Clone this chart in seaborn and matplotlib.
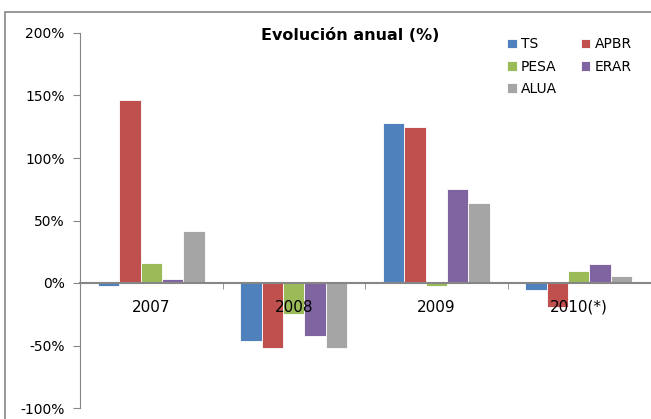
import pandas as pd
import matplotlib.pyplot as plt
import seaborn as sns
from matplotlib.patches import Rectangle

# datos (% de variación anual)
years = ["2007", "2008", "2009", "2010(*)"]
ts = [-2.5, -46, 128, -5.5]
apbr = [146, -52, 124.5, -19.5]
pesa = [15.7, -25, -2, 9.3]
erar = [3, -42, 75.5, 15]
alua = [42, -52, 64, 6]

series = {"TS": ts, "APBR": apbr, "PESA": pesa, "ERAR": erar, "ALUA": alua}
colors = ["#4F81BD", "#C0504D", "#9BBB59", "#8064A2", "#A5A5A5"]

rows = []
for name, vals in series.items():
    for y, v in zip(years, vals):
        rows.append({"year": y, "empresa": name, "valor": v})
df = pd.DataFrame(rows)

sns.set_style("white")
plt.rcParams["text.color"] = "black"
fig = plt.figure(figsize=(6.51, 4.19), dpi=100)
ax = fig.add_axes([80 / 651, 11 / 419, 570 / 651, 375 / 419])

sns.barplot(data=df, x="year", y="valor", hue="empresa", palette=colors,
            saturation=1, width=0.75, ax=ax, edgecolor="white", linewidth=0.6)

ax.set_axisbelow(False)
ax.set_ylim(-100, 200)
ax.set_yticks(range(-100, 201, 50))
ax.set_yticklabels([f"{t}%" for t in range(-100, 201, 50)], fontsize=10)
ax.set_xlabel("")
ax.set_ylabel("")

# eje de categorías en el cero
for s in ["top", "right"]:
    ax.spines[s].set_visible(False)
ax.spines["left"].set_color("#868686")
ax.spines["bottom"].set_color("#868686")
ax.spines["bottom"].set_position(("data", 0))
ax.spines["bottom"].set_linewidth(1.5)
ax.tick_params(axis="y", direction="out", length=5, color="#868686", left=True, pad=6,
               labelcolor="black")
ax.tick_params(axis="x", which="major", length=0, labelsize=11, pad=12, labelcolor="black")
ax.set_xticks([0.5, 1.5, 2.5], minor=True)
ax.tick_params(axis="x", which="minor", direction="out", length=4, color="#868686", bottom=True)
ax.set_xlim(-0.5, 3.5)

# orden por filas como en el original
handles, labels = ax.get_legend_handles_labels()
order = [0, 2, 4, 1, 3]
ax.legend([handles[i] for i in order], [labels[i] for i in order],
          ncol=2, loc="upper left", bbox_to_anchor=(0.727, 1.022), frameon=False,
          fontsize=10, handlelength=0.7, handleheight=0.7, handletextpad=0.3,
          columnspacing=1.7, labelspacing=0.6)

fig.text(350 / 651, 1 - 35 / 419, "Evolución anual (%)", ha="center", va="center",
         fontsize=11.5, fontweight="semibold", color="black")

# borde del área del gráfico
fig.patches.append(Rectangle((5 / 651, -0.01), 0.999, 1 - 12 / 419 + 0.01,
                             transform=fig.transFigure, fill=False,
                             edgecolor="#868686", linewidth=1.2))

fig.savefig("out.png", dpi=100)
